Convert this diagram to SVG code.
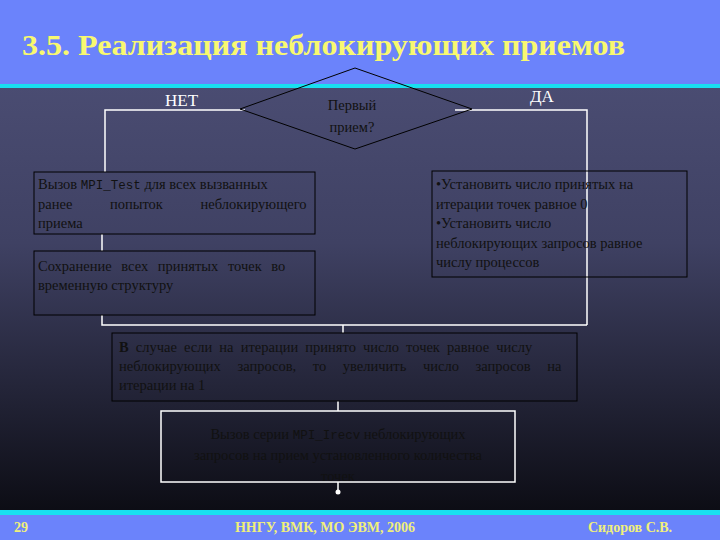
<svg xmlns="http://www.w3.org/2000/svg" width="720" height="540" viewBox="0 0 720 540">
<defs>
<linearGradient id="bg" x1="0" y1="0" x2="0" y2="1"><stop offset="0" stop-color="#50527a"/><stop offset="0.45" stop-color="#3f4163"/><stop offset="1" stop-color="#07070c"/></linearGradient>
</defs>
<style>
.t{font-family:"Liberation Serif",serif;font-size:14.5px;fill:#111}
.w{stroke:#fff;stroke-width:1.5;fill:none}
.b{fill:none;stroke:#000;stroke-width:1}
.f{font-family:"Liberation Serif",serif;font-weight:bold;font-size:14px;fill:#f0f07a}
.m{font-family:"Liberation Mono",monospace;font-size:12.5px}
.h{font-family:"Liberation Serif",serif;font-weight:bold;font-size:30px;fill:#f8f870}
</style>
<rect width="720" height="540" fill="url(#bg)"/>
<rect width="720" height="84" fill="#6b83fb"/>
<rect y="84" width="720" height="4" fill="#18e0f0"/>
<rect y="510" width="720" height="5" fill="#18e0f0"/>
<rect y="515" width="720" height="25" fill="#6b83fb"/>
<text class="h" x="22" y="55" textLength="603" lengthAdjust="spacingAndGlyphs">3.5. Реализация неблокирующих приемов</text>
<g id="connectors">
<polyline class="w" points="245,110 105,110 105,172"/>
<polyline class="w" points="455,110 587,110 587,325"/>
<line class="w" x1="102" y1="234" x2="102" y2="251"/>
<polyline class="w" points="102,315 102,325 587,325"/>
<line class="w" x1="343" y1="325" x2="343" y2="333"/>
<line class="w" x1="338" y1="401" x2="338" y2="411"/>
<line class="w" x1="338" y1="482" x2="338" y2="491"/>
<circle cx="338" cy="492" r="2.5" fill="#fff"/>
</g>
<text x="165" y="106" font-family="Liberation Serif,serif" font-size="17" fill="#fff">НЕТ</text>
<text x="530" y="102" font-family="Liberation Serif,serif" font-size="17" fill="#fff">ДА</text>
<g id="decision">
<polygon class="b" points="355,68 472,109 355,149 240,109"/>
<text class="t" x="352" y="110" text-anchor="middle" font-size="16">Первый</text>
<text class="t" x="352" y="132" text-anchor="middle" font-size="16">прием?</text>
</g>
<g id="box1">
<rect class="b" x="34" y="172" width="281" height="62"/>
<text class="t" x="38" y="189">Вызов <tspan class="m">MPI_Test</tspan> для всех вызванных</text>
<text class="t" x="38" y="209" word-spacing="34">ранее попыток неблокирующего</text>
<text class="t" x="38" y="228">приема</text>
</g>
<g id="box2">
<rect class="b" x="34" y="251" width="281" height="64"/>
<text class="t" x="38" y="271" word-spacing="6">Сохранение всех принятых точек во</text>
<text class="t" x="38" y="290">временную структуру</text>
</g>
<g id="box3">
<rect class="b" x="432" y="171" width="255" height="106"/>
<text class="t" x="436" y="189">•Установить число принятых на</text>
<text class="t" x="436" y="209">итерации точек равное 0</text>
<text class="t" x="436" y="228">•Установить число</text>
<text class="t" x="436" y="248">неблокирующих запросов равное</text>
<text class="t" x="436" y="267">числу процессов</text>
</g>
<g id="box4">
<rect class="b" x="112" y="333" width="465" height="68"/>
<text class="t" x="119" y="352" word-spacing="3.5"><tspan font-weight="bold">В</tspan> случае если на итерации принято число точек равное числу</text>
<text class="t" x="119" y="371" word-spacing="13">неблокирующих запросов, то увеличить число запросов на</text>
<text class="t" x="119" y="390">итерации на 1</text>
</g>
<g id="box5">
<rect class="w" x="161" y="411" width="354" height="71"/>
<text class="t" x="338" y="439" text-anchor="middle">Вызов серии <tspan class="m">MPI_Irecv</tspan> неблокирующих</text>
<text class="t" x="338" y="460" text-anchor="middle">запросов на прием установленного количества</text>
<text class="t" x="338" y="481" text-anchor="middle">точек</text>
</g>
<text class="f" x="14" y="532">29</text>
<text class="f" x="325" y="532" text-anchor="middle">ННГУ, ВМК, МО ЭВМ, 2006</text>
<text class="f" x="630" y="532" text-anchor="middle">Сидоров С.В.</text>
</svg>
